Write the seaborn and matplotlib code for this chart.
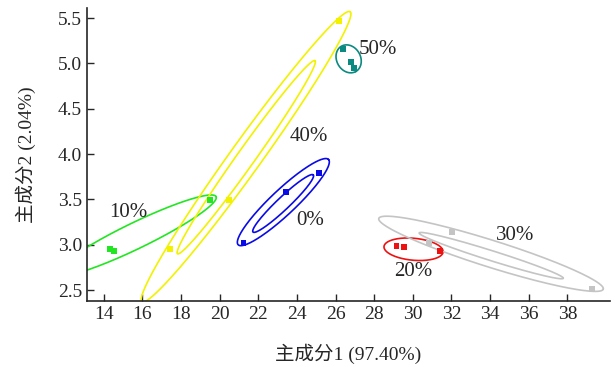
import numpy as np
import pandas as pd
import matplotlib
matplotlib.use('Agg')
import matplotlib.pyplot as plt
import seaborn as sns

# 组别 (浓度) 与颜色
groups = ['0%', '10%', '20%', '30%', '40%', '50%']
colors = ['#0a0ae6', '#22e622', '#ee1111', '#c4c4c4', '#f2f200', '#0a8a80']

# 样本点 (主成分1, 主成分2)
pc1_0 = [21.24, 23.45, 25.15]
pc2_0 = [3.02, 3.58, 3.79]
pc1_10 = [14.31, 14.52, 19.52]
pc2_10 = [2.95, 2.93, 3.49]
pc1_20 = [29.16, 29.54, 31.40]
pc2_20 = [2.99, 2.97, 2.93]
pc1_30 = [30.84, 32.02, 39.26]
pc2_30 = [3.02, 3.14, 2.51]
pc1_40 = [17.44, 20.51, 26.17]
pc2_40 = [2.95, 3.49, 5.47]
pc1_50 = [26.38, 26.78, 26.94]
pc2_50 = [5.16, 5.02, 4.95]

# 置信椭圆: 中心, 长轴端点, 短/长轴比 (屏幕空间)
ell_group = ['0%', '0%', '10%', '20%', '30%', '30%', '40%', '40%', '50%']
ell_center = [(23.30, 3.47), (23.29, 3.455), (15.66, 3.10), (30.04, 2.95),
              (34.05, 2.90), (34.06, 2.88), (21.37, 3.97), (21.38, 3.965),
              (26.68, 5.05)]
ell_tip = [(25.64, 3.94), (24.85, 3.77), (19.82, 3.53), (31.57, 2.92),
           (39.86, 2.51), (37.79, 2.63), (26.76, 5.57), (24.94, 5.03),
           (27.05, 4.91)]
ell_ratio = [0.20, 0.15, 0.145, 0.37, 0.114, 0.066, 0.087, 0.075, 0.82]

# 标签位置
label_x = [24.7, 15.3, 30.0, 35.3, 24.6, 28.2]
label_y = [3.27, 3.36, 2.70, 3.10, 4.19, 5.15]

pc1 = [pc1_40, pc1_0, pc1_10, pc1_20, pc1_30, pc1_50]
pc2 = [pc2_40, pc2_0, pc2_10, pc2_20, pc2_30, pc2_50]
order = ['40%', '0%', '10%', '20%', '30%', '50%']
df = pd.concat([pd.DataFrame({'pc1': a, 'pc2': b, 'group': g})
                for a, b, g in zip(pc1, pc2, order)], ignore_index=True)
palette = dict(zip(groups, colors))

sns.set_style('ticks')
plt.rcParams['font.family'] = ['Liberation Serif', 'Noto Sans CJK SC']
plt.rcParams['axes.unicode_minus'] = False

fig = plt.figure(figsize=(6.16, 3.67), dpi=100)
ax = fig.add_axes([0.141, 0.18, 0.849, 0.798])
ax.set_xlim(13.13, 40.2)
ax.set_ylim(2.38, 5.61)


def draw_ellipse(center, tip, ratio, color):
    c = ax.transData.transform(center)
    t = ax.transData.transform(tip)
    u = t - c
    v = np.array([-u[1], u[0]]) * ratio
    th = np.linspace(0, 2 * np.pi, 300)
    pts = c + np.outer(np.cos(th), u) + np.outer(np.sin(th), v)
    d = ax.transData.inverted().transform(pts)
    ax.plot(d[:, 0], d[:, 1], color=color, lw=1.2)


for g, c, t, r in zip(ell_group, ell_center, ell_tip, ell_ratio):
    draw_ellipse(c, t, r, palette[g])

sns.scatterplot(data=df, x='pc1', y='pc2', hue='group', palette=palette,
                marker='s', s=18, edgecolor='none', legend=False, ax=ax,
                zorder=3)

for g, x, y in zip(groups, label_x, label_y):
    ax.text(x, y, g, fontsize=15, ha='center', va='center')

ax.set_xticks(np.arange(14, 39, 2))
ax.set_yticks(np.arange(2.5, 5.6, 0.5))
ax.yaxis.set_major_formatter(matplotlib.ticker.FormatStrFormatter('%.1f'))
ax.tick_params(direction='in', length=5, width=1, labelsize=14)
for s in ['top', 'right']:
    ax.spines[s].set_visible(False)
for s in ['left', 'bottom']:
    ax.spines[s].set_linewidth(1.2)
ax.set_xlabel('主成分1 (97.40%)', fontsize=14, labelpad=15)
ax.set_ylabel('主成分2 (2.04%)', fontsize=14, labelpad=16)

fig.savefig('out.png', dpi=100)
